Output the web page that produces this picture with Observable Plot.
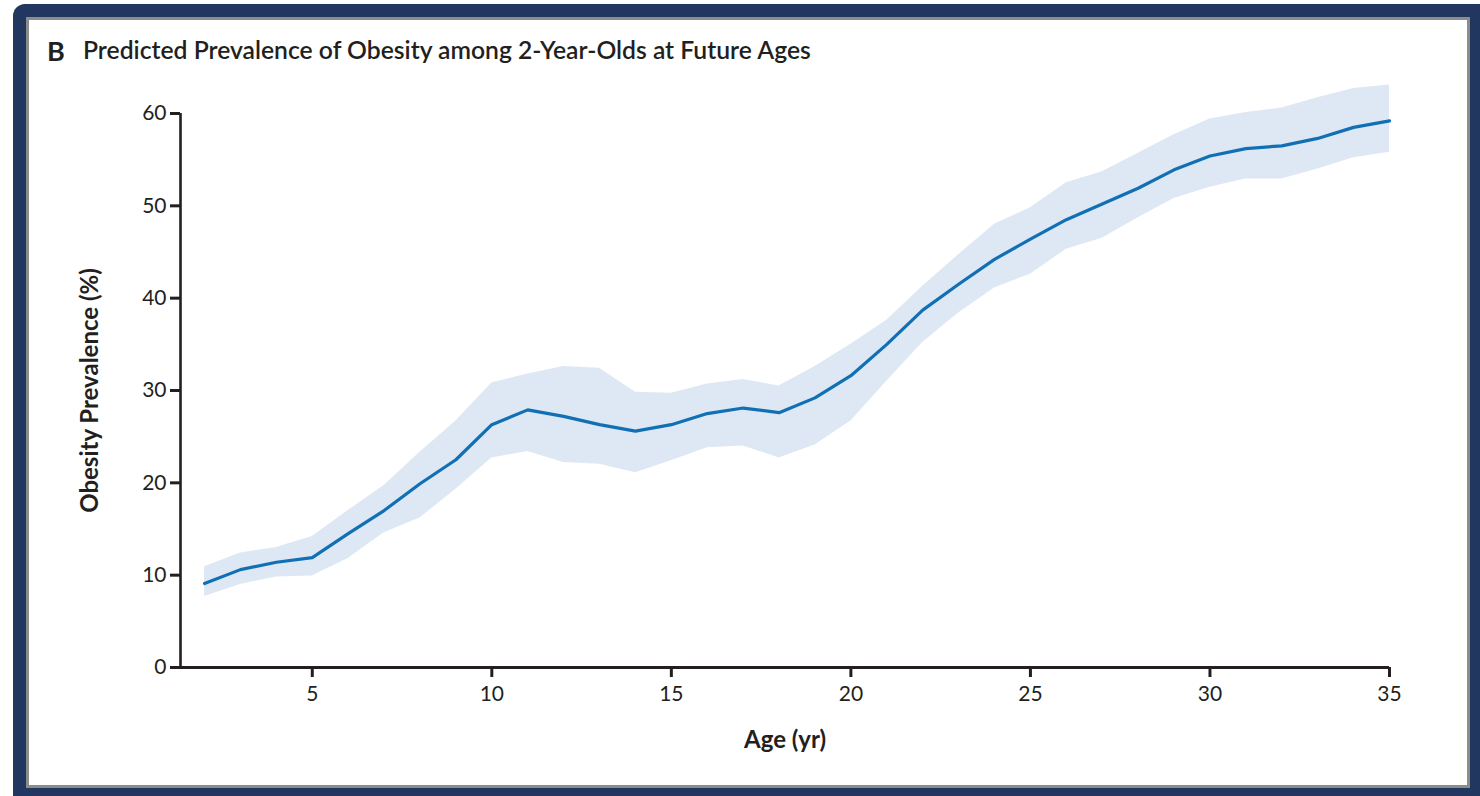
<!DOCTYPE html>
<html>
<head>
<meta charset="utf-8">
<script src="https://cdn.jsdelivr.net/npm/d3@7"></script>
<script src="https://cdn.jsdelivr.net/npm/@observablehq/plot@0.6"></script>
<style>
  html, body { margin: 0; padding: 0; width: 1480px; height: 796px; overflow: hidden; background: #ffffff; }
  #frame { position: absolute; left: 13px; top: 4px; width: 1480px; height: 800px; background: #21375f; border-radius: 12px 0 0 0; }
  #inner { position: absolute; left: 13px; top: 13px; width: 1438px; height: 765px; background: #ffffff; border: 3px solid #8c8c8c; }
  .t { position: absolute; font-family: Lato, "Open Sans", sans-serif; color: #231f20; white-space: nowrap; line-height: 1; }
  #chart { position: absolute; left: 29px; top: 20px; }
</style>
</head>
<body>
<div id="frame"><div id="inner"></div></div>
<div class="t" style="left:47px; top:37px; font-size:27px; font-weight:700;">B</div>
<div class="t" id="title" style="left:83px; top:38px; font-size:24.7px; font-weight:600;">Predicted Prevalence of Obesity among 2-Year-Olds at Future Ages</div>
<div id="chart"></div>
<script>
// Age (yr)
const ages = [2, 3, 4, 5, 6, 7, 8, 9, 10, 11, 12, 13, 14, 15, 16, 17, 18, 19, 20, 21, 22, 23, 24, 25, 26, 27, 28, 29, 30, 31, 32, 33, 34, 35];
// Predicted obesity prevalence (%)
const prevalence = [9.1, 10.6, 11.4, 11.9, 14.5, 17.0, 19.9, 22.5, 26.3, 27.9, 27.2, 26.3, 25.6, 26.3, 27.5, 28.1, 27.6, 29.2, 31.6, 35.0, 38.7, 41.5, 44.2, 46.4, 48.5, 50.2, 51.9, 53.9, 55.4, 56.2, 56.5, 57.3, 58.5, 59.2];
// Uncertainty band
const upper = [10.9, 12.4, 13.0, 14.2, 17.0, 19.7, 23.3, 26.7, 30.8, 31.8, 32.6, 32.4, 29.8, 29.7, 30.7, 31.2, 30.5, 32.6, 35.0, 37.6, 41.3, 44.7, 48.0, 49.8, 52.5, 53.7, 55.7, 57.7, 59.4, 60.1, 60.6, 61.7, 62.7, 63.1];
const lower = [7.7, 9.0, 9.8, 9.9, 11.8, 14.6, 16.2, 19.3, 22.7, 23.4, 22.2, 22.0, 21.1, 22.4, 23.8, 24.0, 22.7, 24.1, 26.7, 31.0, 35.2, 38.4, 41.1, 42.6, 45.3, 46.5, 48.7, 50.8, 52.0, 52.9, 52.9, 54.0, 55.2, 55.8];
// Tick labels
const xTicks = [5, 10, 15, 20, 25, 30, 35];
const yTicks = [0, 10, 20, 30, 40, 50, 60];
const xLabel = "Age (yr)";
const yLabel = "Obesity Prevalence (%)";

const data = ages.map((a, i) => ({age: a, mid: prevalence[i], lo: lower[i], hi: upper[i]}));
const xMin = 1.33;
const ink = "#231f20";

const chart = Plot.plot({
  width: 1438,
  height: 765,
  marginLeft: 151,
  marginRight: 78,
  marginTop: 93,
  marginBottom: 118,
  style: {background: "transparent", fontFamily: "Lato, 'Open Sans', sans-serif", fontSize: "21px", color: ink, overflow: "visible"},
  x: {domain: [xMin, 35]},
  y: {domain: [0, 60]},
  marks: [
    Plot.areaY(data, {x: "age", y1: "lo", y2: "hi", fill: "#dee8f4"}),
    Plot.lineY(data, {x: "age", y: "mid", stroke: "#1170b3", strokeWidth: 3.2}),
    Plot.axisX({ticks: xTicks, tickSize: 10, tickPadding: 9, strokeWidth: 3, label: null, tickFormat: d => String(d), fontSize: 21}),
    Plot.axisY({ticks: yTicks, tickSize: 10, tickPadding: 4, strokeWidth: 3, label: null, tickFormat: d => String(d), fontSize: 21}),
    Plot.ruleY([0], {stroke: ink, strokeWidth: 3}),
    Plot.ruleX([xMin], {stroke: ink, strokeWidth: 2.6}),
    Plot.text([xLabel], {frameAnchor: "bottom", dy: 80, fontSize: 24, fontWeight: "bold", fill: ink}),
    Plot.text([yLabel], {frameAnchor: "left", textAnchor: "middle", rotate: -90, dx: -90, fontSize: 24, fontWeight: "bold", fill: ink})
  ]
});
document.getElementById("chart").appendChild(chart);
</script>
</body>
</html>
